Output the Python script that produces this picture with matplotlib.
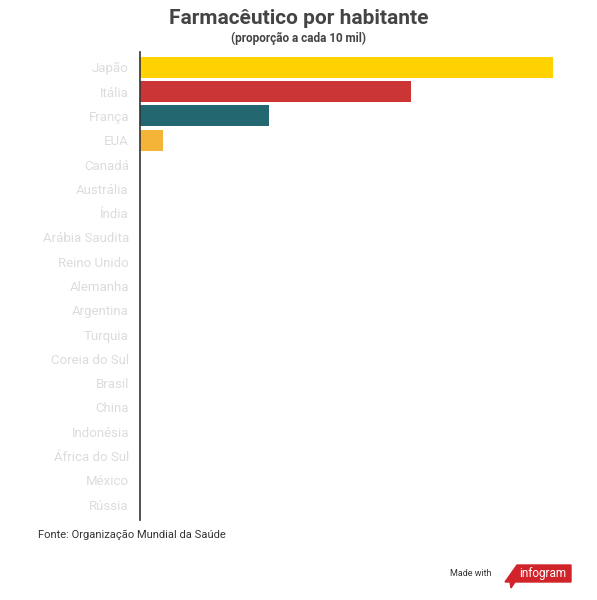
import matplotlib
matplotlib.use("Agg")
import matplotlib.pyplot as plt
from matplotlib.patches import Polygon

plt.rcParams['font.family'] = ['Roboto', 'DejaVu Sans']

countries = ["Japão", "Itália", "França", "EUA", "Canadá", "Austrália", "Índia",
             "Arábia Saudita", "Reino Unido", "Alemanha", "Argentina", "Turquia",
             "Coreia do Sul", "Brasil", "China", "Indonésia", "África do Sul",
             "México", "Rússia"]
values = [17.0, 11.15, 5.3, 0.95] + [0] * 15
colors = ["#ffd200", "#cc3536", "#236770", "#f3b438"] + ["#cccccc"] * 15

fig = plt.figure(figsize=(5.97, 6.0), dpi=100)
ax = fig.add_axes([140/597, 1-520/600, 413/597, 468/600])
y = list(range(len(countries)))
ax.barh(y, values, height=0.87, color=colors)
ax.set_ylim(18.63, -0.63)
ax.set_xlim(0, 17.0)
ax.set_yticks(y)
ax.set_yticklabels(countries, color="#dcdcdc", fontsize=9.5)
ax.tick_params(axis='y', length=0, pad=8)
ax.set_xticks([])
for s in ["top", "right", "bottom"]:
    ax.spines[s].set_visible(False)
ax.spines["left"].set_color("#333333")
ax.spines["left"].set_linewidth(1.2)

fig.text(0.5, 1-18/600, "Farmacêutico por habitante", ha="center", va="center",
         fontsize=15, fontweight="bold", color="#444444")
fig.text(0.5, 1-38/600, "(proporção a cada 10 mil)", ha="center", va="center",
         fontsize=8.5, fontweight="bold", color="#444444")
fig.text(38/597, 1-535/600, "Fonte: Organização Mundial da Saúde", ha="left", va="center",
         fontsize=8, color="#333333")
fig.text(450/597, 1-574/600, "Made with", ha="left", va="center", fontsize=6.5, color="#333333")
pts = [(517, 565), (571, 565), (571, 582), (515, 582), (511, 588), (510, 582), (505, 582)]
fig.patches.append(Polygon([(px/597, 1-py/600) for px, py in pts], closed=True,
                           transform=fig.transFigure, color="#d0232a"))
fig.text(543/597, 1-573/600, "infogram", ha="center", va="center", fontsize=8.5, color="white")
fig.savefig("out.png", dpi=100, facecolor="white")
